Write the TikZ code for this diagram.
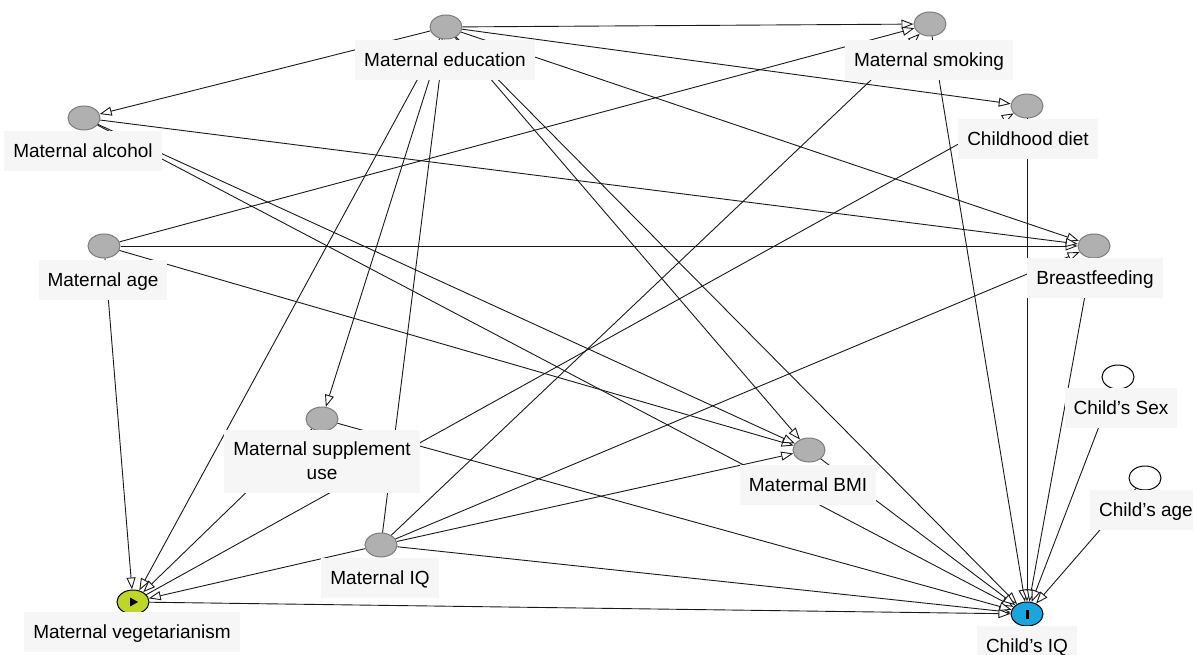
\documentclass[tikz,border=0pt]{standalone}
\usepackage{fontspec}
\setmainfont{Liberation Sans}
\usetikzlibrary{shapes.geometric,arrows.meta}
\definecolor{lblbg}{RGB}{246,246,246}
\definecolor{latfill}{RGB}{176,176,176}
\definecolor{latdraw}{RGB}{125,125,125}
\definecolor{expocol}{RGB}{190,214,40}
\definecolor{outccol}{RGB}{25,165,222}
\begin{document}
\begin{tikzpicture}[x=1pt,y=-1pt,
  lat/.style={ellipse,draw=latdraw,fill=latfill,line width=1pt,minimum width=32pt,minimum height=24pt,inner sep=0pt},
  adjn/.style={ellipse,draw=black,fill=white,line width=1pt,minimum width=32pt,minimum height=24pt,inner sep=0pt},
  exponode/.style={ellipse,draw=black,fill=expocol,line width=1pt,minimum width=32pt,minimum height=24pt,inner sep=0pt},
  outcnode/.style={ellipse,draw=black,fill=outccol,line width=1pt,minimum width=32pt,minimum height=24pt,inner sep=0pt},
  lbl/.style={fill=lblbg,font=\fontsize{19}{24}\selectfont,text height=13.6pt,text depth=0pt,minimum height=40pt,inner xsep=9pt,inner ysep=0pt},
  arr/.style={draw=black!90,line width=0.9pt,-{Triangle[length=12pt,width=9pt,fill=white]}}
]
\useasboundingbox (0,0) rectangle (1193,655);
% variable circles
\node[lat] (edu) at (446,27) {};
\node[lat] (smk) at (930,24) {};
\node[lat] (diet) at (1027,106) {};
\node[lat] (alc) at (84,118) {};
\node[lat] (age) at (104,246) {};
\node[lat] (bf) at (1094,246) {};
\node[adjn] (sex) at (1118,377) {};
\node[adjn] (cage) at (1145,478) {};
\node[lat] (supp) at (322,419) {};
\node[lat] (bmi) at (809,450) {};
\node[lat] (miq) at (381,545) {};
\node[exponode] (veg) at (133,602) {};
\node[outcnode] (ciq) at (1027,614) {};
\fill ([xshift=-3pt,yshift=-4.5pt]veg.center) -- ([xshift=5pt]veg.center) -- ([xshift=-3pt,yshift=4.5pt]veg.center) -- cycle;
\fill ([xshift=-1.5pt,yshift=-4.5pt]ciq.center) rectangle ([xshift=1.5pt,yshift=4.5pt]ciq.center);
% edges
\foreach \a/\b in {edu/smk,edu/diet,edu/bf,edu/alc,edu/veg,edu/supp,edu/bmi,edu/ciq,
  miq/edu,age/smk,age/bf,age/bmi,age/veg,alc/bf,alc/bmi,alc/ciq,
  miq/smk,miq/bf,miq/bmi,miq/ciq,miq/veg,supp/veg,supp/ciq,veg/diet,veg/ciq,
  smk/ciq,diet/ciq,bf/ciq,bmi/ciq,sex/ciq,cage/ciq}
  \draw[arr] (\a) -- (\b);
% labels
\node[lbl] (eduL) at (445,60) {Maternal education};
\node[lbl] (smkL) at (929,60) {Maternal smoking};
\node[lbl] (dietL) at (1028,139) {Childhood diet};
\node[lbl] (alcL) at (83,151) {Maternal alcohol};
\node[lbl] (ageL) at (103,280) {Maternal age};
\node[lbl] (bfL) at (1095,278) {Breastfeeding};
\node[lbl] (sexL) at (1121,408) {Child’s Sex};
\node[lbl] (cageL) at (1146,510) {Child’s age};
\node[fill=lblbg,font=\fontsize{19}{24}\selectfont,align=center,minimum height=63pt,inner xsep=9pt] (suppL) at (322,461) {Maternal supplement\\use};
\node[lbl] (bmiL) at (808,485) {Matermal BMI};
\node[lbl] (miqL) at (380,578) {Maternal IQ};
\node[lbl] (vegL) at (132,632) {Maternal vegetarianism};
\node[lbl] (ciqL) at (1027,646) {Child’s IQ};
\end{tikzpicture}
\end{document}
